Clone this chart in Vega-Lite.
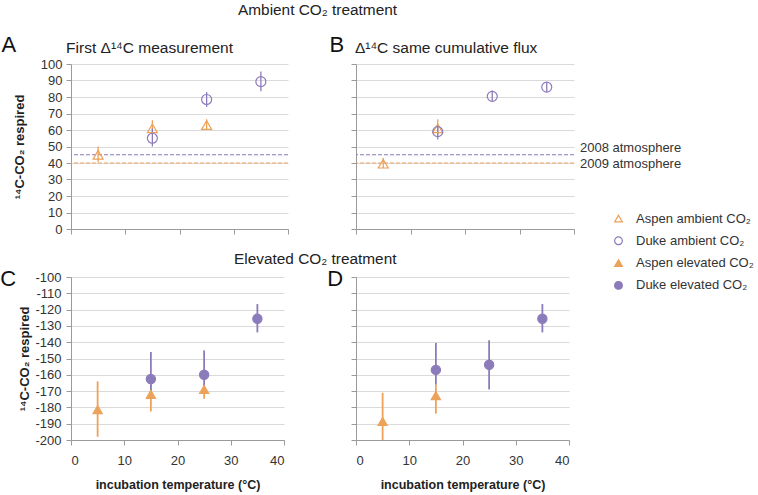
{
  "$schema": "https://vega.github.io/schema/vega-lite/v6.json",
  "padding": {"left": 0, "top": 3, "right": 2, "bottom": 1},
  "config": {
    "font": "Liberation Sans",
    "view": {"stroke": null},
    "axis": {"domainColor": "#9a9a9a", "tickColor": "#9a9a9a", "gridColor": "#dadada", "labelColor": "#333", "labelFontSize": 13, "labelFont": "Liberation Sans", "titleFont": "Liberation Sans", "titleColor": "#222", "tickSize": 5},
    "axisX": {"grid": false},
    "axisY": {"grid": true},
    "legend": {"orient": "none", "legendX": 541, "legendY": 148, "labelFontSize": 13, "labelColor": "#333", "symbolSize": 60, "symbolStrokeWidth": 1.2, "rowPadding": 8.3, "labelOffset": 11}
  },
  "datasets": {
    "pts": [
      {"panel": "A", "site": "Aspen", "series": "Aspen ambient CO₂", "temp": 5, "value": 45, "lo": 40.5, "hi": 50},
      {"panel": "A", "site": "Aspen", "series": "Aspen ambient CO₂", "temp": 15, "value": 61, "lo": 57, "hi": 66},
      {"panel": "A", "site": "Aspen", "series": "Aspen ambient CO₂", "temp": 25, "value": 63, "lo": 60.5, "hi": 66.5},
      {"panel": "A", "site": "Duke", "series": "Duke ambient CO₂", "temp": 15, "value": 55, "lo": 50, "hi": 61},
      {"panel": "A", "site": "Duke", "series": "Duke ambient CO₂", "temp": 25, "value": 78.5, "lo": 74, "hi": 83},
      {"panel": "A", "site": "Duke", "series": "Duke ambient CO₂", "temp": 35, "value": 89.3, "lo": 83.5, "hi": 95.5},
      {"panel": "B", "site": "Aspen", "series": "Aspen ambient CO₂", "temp": 5, "value": 39.6, "lo": 37, "hi": 43},
      {"panel": "B", "site": "Aspen", "series": "Aspen ambient CO₂", "temp": 15, "value": 61, "lo": 57, "hi": 66.5},
      {"panel": "B", "site": "Duke", "series": "Duke ambient CO₂", "temp": 15, "value": 59, "lo": 54.3, "hi": 63},
      {"panel": "B", "site": "Duke", "series": "Duke ambient CO₂", "temp": 25, "value": 80.4, "lo": 77.4, "hi": 84},
      {"panel": "B", "site": "Duke", "series": "Duke ambient CO₂", "temp": 35, "value": 86, "lo": 83, "hi": 89},
      {"panel": "C", "site": "Aspen", "series": "Aspen elevated CO₂", "temp": 5, "value": -181.4, "lo": -198, "hi": -164},
      {"panel": "C", "site": "Aspen", "series": "Aspen elevated CO₂", "temp": 15, "value": -172, "lo": -182.5, "hi": -166},
      {"panel": "C", "site": "Aspen", "series": "Aspen elevated CO₂", "temp": 25, "value": -169, "lo": -174.7, "hi": -166},
      {"panel": "C", "site": "Duke", "series": "Duke elevated CO₂", "temp": 15, "value": -162.6, "lo": -171, "hi": -146},
      {"panel": "C", "site": "Duke", "series": "Duke elevated CO₂", "temp": 25, "value": -160, "lo": -168, "hi": -145},
      {"panel": "C", "site": "Duke", "series": "Duke elevated CO₂", "temp": 35, "value": -125.6, "lo": -134, "hi": -116.6},
      {"panel": "D", "site": "Aspen", "series": "Aspen elevated CO₂", "temp": 5, "value": -188.6, "lo": -200, "hi": -171},
      {"panel": "D", "site": "Aspen", "series": "Aspen elevated CO₂", "temp": 15, "value": -172.8, "lo": -183.8, "hi": -166},
      {"panel": "D", "site": "Duke", "series": "Duke elevated CO₂", "temp": 15, "value": -157, "lo": -166, "hi": -140.5},
      {"panel": "D", "site": "Duke", "series": "Duke elevated CO₂", "temp": 25, "value": -153.8, "lo": -169, "hi": -138.8},
      {"panel": "D", "site": "Duke", "series": "Duke elevated CO₂", "temp": 35, "value": -125.6, "lo": -134, "hi": -116.6}
    ],
    "refs": [
      {"year": 2008, "label": "2008 atmosphere", "value": 45},
      {"year": 2009, "label": "2009 atmosphere", "value": 40}
    ],
    "letters": [
      {"panel": "A", "letter": "A", "subtitle": "First Δ¹⁴C measurement"},
      {"panel": "B", "letter": "B", "subtitle": "Δ¹⁴C same cumulative flux"},
      {"panel": "C", "letter": "C", "subtitle": ""},
      {"panel": "D", "letter": "D", "subtitle": ""}
    ]
  },
  "spacing": 16,
  "vconcat": [
    {
      "title": {"text": "Ambient CO₂ treatment", "anchor": "start", "frame": "group", "dx": 167, "fontSize": 15.4, "fontWeight": "normal", "color": "#222", "offset": 15},
      "spacing": 40,
      "hconcat": [
        {
          "width": 217, "height": 165,
          "layer": [
            {"data": {"name": "refs"}, "transform": [{"filter": "datum.year === 2008"}], "mark": {"type": "rule", "color": "#8C7BBA", "strokeDash": [4, 2], "strokeWidth": 1},
             "encoding": {"y": {"field": "value", "type": "quantitative", "scale": {"domain": [0, 100], "nice": false}, "axis": {"values": [0, 10, 20, 30, 40, 50, 60, 70, 80, 90, 100], "title": "¹⁴C-CO₂ respired", "titleFontSize": 13, "titleFontWeight": "bold", "titlePadding": 14, "labelPadding": 4}}}},
            {"data": {"name": "refs"}, "transform": [{"filter": "datum.year === 2009"}], "mark": {"type": "rule", "color": "#EDA25A", "strokeDash": [4, 2], "strokeWidth": 1},
             "encoding": {"y": {"field": "value", "type": "quantitative", "scale": {"domain": [0, 100], "nice": false}, "axis": {"values": [0, 10, 20, 30, 40, 50, 60, 70, 80, 90, 100], "title": "¹⁴C-CO₂ respired", "titleFontSize": 13, "titleFontWeight": "bold", "titlePadding": 14, "labelPadding": 4}}}},
            {"data": {"name": "pts"}, "transform": [{"filter": "datum.panel === 'A'"}], "mark": {"type": "rule", "strokeWidth": 1.3},
             "encoding": {
               "x": {"field": "temp", "type": "quantitative", "scale": {"domain": [0, 40], "nice": false}, "axis": {"values": [0, 10, 20, 30, 40], "labels": false, "title": null}},
               "y": {"field": "lo", "type": "quantitative", "scale": {"domain": [0, 100], "nice": false}, "axis": {"values": [0, 10, 20, 30, 40, 50, 60, 70, 80, 90, 100], "title": "¹⁴C-CO₂ respired", "titleFontSize": 13, "titleFontWeight": "bold", "titlePadding": 14, "labelPadding": 4}}, "y2": {"field": "hi"},
               "color": {"field": "site", "type": "nominal", "scale": {"domain": ["Aspen", "Duke"], "range": ["#EDA25A", "#8C7BBA"]}, "legend": null}}},
            {"data": {"name": "pts"}, "transform": [{"filter": "datum.panel === 'A'"}], "mark": {"type": "point", "size": 100, "strokeWidth": 1.2, "opacity": 1},
             "encoding": {
               "x": {"field": "temp", "type": "quantitative", "scale": {"domain": [0, 40], "nice": false}, "axis": {"values": [0, 10, 20, 30, 40], "labels": false, "title": null}},
               "y": {"field": "value", "type": "quantitative", "scale": {"domain": [0, 100], "nice": false}, "axis": {"values": [0, 10, 20, 30, 40, 50, 60, 70, 80, 90, 100], "title": "¹⁴C-CO₂ respired", "titleFontSize": 13, "titleFontWeight": "bold", "titlePadding": 14, "labelPadding": 4}},
               "shape": {"field": "series", "type": "nominal", "scale": {"domain": ["Aspen ambient CO₂", "Duke ambient CO₂", "Aspen elevated CO₂", "Duke elevated CO₂"], "range": ["triangle-up", "circle", "triangle-up", "circle"]}, "title": null},
               "stroke": {"field": "series", "type": "nominal", "scale": {"domain": ["Aspen ambient CO₂", "Duke ambient CO₂", "Aspen elevated CO₂", "Duke elevated CO₂"], "range": ["#EDA25A", "#8C7BBA", "#EDA25A", "#8C7BBA"]}, "title": null},
               "fill": {"field": "series", "type": "nominal", "scale": {"domain": ["Aspen ambient CO₂", "Duke ambient CO₂", "Aspen elevated CO₂", "Duke elevated CO₂"], "range": ["transparent", "transparent", "#EDA25A", "#8C7BBA"]}, "title": null}
             }},
            {"data": {"name": "letters"}, "transform": [{"filter": "datum.panel === 'A'"}], "mark": {"type": "text", "fontSize": 22, "baseline": "middle", "align": "center", "color": "#111"},
             "encoding": {"x": {"datum": -11.45, "type": "quantitative", "axis": {"values": [0, 10, 20, 30, 40], "labels": false, "title": null}}, "y": {"datum": 111.8, "type": "quantitative", "axis": {"values": [0, 10, 20, 30, 40, 50, 60, 70, 80, 90, 100], "title": "¹⁴C-CO₂ respired", "titleFontSize": 13, "titleFontWeight": "bold", "titlePadding": 14, "labelPadding": 4}}, "text": {"field": "letter", "type": "nominal"}}},
            {"data": {"name": "letters"}, "transform": [{"filter": "datum.panel === 'A'"}], "mark": {"type": "text", "fontSize": 15.5, "baseline": "middle", "align": "left", "color": "#222"},
             "encoding": {"x": {"datum": -0.9, "type": "quantitative", "axis": {"values": [0, 10, 20, 30, 40], "labels": false, "title": null}}, "y": {"datum": 109.7, "type": "quantitative", "axis": {"values": [0, 10, 20, 30, 40, 50, 60, 70, 80, 90, 100], "title": "¹⁴C-CO₂ respired", "titleFontSize": 13, "titleFontWeight": "bold", "titlePadding": 14, "labelPadding": 4}}, "text": {"field": "subtitle", "type": "nominal"}}}
          ]
        },
        {
          "width": 218, "height": 165,
          "layer": [
            {"data": {"name": "refs"}, "transform": [{"filter": "datum.year === 2008"}], "mark": {"type": "rule", "color": "#8C7BBA", "strokeDash": [4, 2], "strokeWidth": 1},
             "encoding": {"y": {"field": "value", "type": "quantitative", "scale": {"domain": [0, 100], "nice": false}, "axis": {"values": [0, 10, 20, 30, 40, 50, 60, 70, 80, 90, 100], "labels": false, "title": null}}}},
            {"data": {"name": "refs"}, "transform": [{"filter": "datum.year === 2009"}], "mark": {"type": "rule", "color": "#EDA25A", "strokeDash": [4, 2], "strokeWidth": 1},
             "encoding": {"y": {"field": "value", "type": "quantitative", "scale": {"domain": [0, 100], "nice": false}, "axis": {"values": [0, 10, 20, 30, 40, 50, 60, 70, 80, 90, 100], "labels": false, "title": null}}}},
            {"data": {"name": "refs"}, "transform": [{"filter": "datum.year === 2008"}], "mark": {"type": "text", "align": "left", "baseline": "middle", "dx": 6, "dy": -7, "fontSize": 13, "color": "#333"},
             "encoding": {"x": {"datum": 40, "type": "quantitative", "axis": {"values": [0, 10, 20, 30, 40], "labels": false, "title": null}}, "y": {"field": "value", "type": "quantitative", "axis": {"values": [0, 10, 20, 30, 40, 50, 60, 70, 80, 90, 100], "labels": false, "title": null}}, "text": {"field": "label", "type": "nominal"}}},
            {"data": {"name": "refs"}, "transform": [{"filter": "datum.year === 2009"}], "mark": {"type": "text", "align": "left", "baseline": "middle", "dx": 6, "dy": 1, "fontSize": 13, "color": "#333"},
             "encoding": {"x": {"datum": 40, "type": "quantitative", "axis": {"values": [0, 10, 20, 30, 40], "labels": false, "title": null}}, "y": {"field": "value", "type": "quantitative", "axis": {"values": [0, 10, 20, 30, 40, 50, 60, 70, 80, 90, 100], "labels": false, "title": null}}, "text": {"field": "label", "type": "nominal"}}},
            {"data": {"name": "pts"}, "transform": [{"filter": "datum.panel === 'B'"}], "mark": {"type": "rule", "strokeWidth": 1.3},
             "encoding": {
               "x": {"field": "temp", "type": "quantitative", "scale": {"domain": [0, 40], "nice": false}, "axis": {"values": [0, 10, 20, 30, 40], "labels": false, "title": null}},
               "y": {"field": "lo", "type": "quantitative", "scale": {"domain": [0, 100], "nice": false}, "axis": {"values": [0, 10, 20, 30, 40, 50, 60, 70, 80, 90, 100], "labels": false, "title": null}}, "y2": {"field": "hi"},
               "color": {"field": "site", "type": "nominal", "scale": {"domain": ["Aspen", "Duke"], "range": ["#EDA25A", "#8C7BBA"]}, "legend": null}}},
            {"data": {"name": "pts"}, "transform": [{"filter": "datum.panel === 'B'"}], "mark": {"type": "point", "size": 100, "strokeWidth": 1.2, "opacity": 1},
             "encoding": {
               "x": {"field": "temp", "type": "quantitative", "scale": {"domain": [0, 40], "nice": false}, "axis": {"values": [0, 10, 20, 30, 40], "labels": false, "title": null}},
               "y": {"field": "value", "type": "quantitative", "scale": {"domain": [0, 100], "nice": false}, "axis": {"values": [0, 10, 20, 30, 40, 50, 60, 70, 80, 90, 100], "labels": false, "title": null}},
               "shape": {"field": "series", "type": "nominal", "scale": {"domain": ["Aspen ambient CO₂", "Duke ambient CO₂", "Aspen elevated CO₂", "Duke elevated CO₂"], "range": ["triangle-up", "circle", "triangle-up", "circle"]}, "title": null},
               "stroke": {"field": "series", "type": "nominal", "scale": {"domain": ["Aspen ambient CO₂", "Duke ambient CO₂", "Aspen elevated CO₂", "Duke elevated CO₂"], "range": ["#EDA25A", "#8C7BBA", "#EDA25A", "#8C7BBA"]}, "title": null},
               "fill": {"field": "series", "type": "nominal", "scale": {"domain": ["Aspen ambient CO₂", "Duke ambient CO₂", "Aspen elevated CO₂", "Duke elevated CO₂"], "range": ["transparent", "transparent", "#EDA25A", "#8C7BBA"]}, "title": null}
             }},
            {"data": {"name": "letters"}, "transform": [{"filter": "datum.panel === 'B'"}], "mark": {"type": "text", "fontSize": 22, "baseline": "middle", "align": "center", "color": "#111"},
             "encoding": {"x": {"datum": -3.5, "type": "quantitative", "axis": {"values": [0, 10, 20, 30, 40], "labels": false, "title": null}}, "y": {"datum": 111.3, "type": "quantitative", "axis": {"values": [0, 10, 20, 30, 40, 50, 60, 70, 80, 90, 100], "labels": false, "title": null}}, "text": {"field": "letter", "type": "nominal"}}},
            {"data": {"name": "letters"}, "transform": [{"filter": "datum.panel === 'B'"}], "mark": {"type": "text", "fontSize": 15.5, "baseline": "middle", "align": "left", "color": "#222"},
             "encoding": {"x": {"datum": -0.2, "type": "quantitative", "axis": {"values": [0, 10, 20, 30, 40], "labels": false, "title": null}}, "y": {"datum": 109.7, "type": "quantitative", "axis": {"values": [0, 10, 20, 30, 40, 50, 60, 70, 80, 90, 100], "labels": false, "title": null}}, "text": {"field": "subtitle", "type": "nominal"}}}
          ]
        }
      ]
    },
    {
      "title": {"text": "Elevated CO₂ treatment", "anchor": "start", "frame": "group", "dx": 163, "fontSize": 15.4, "fontWeight": "normal", "color": "#222", "offset": 0},
      "spacing": 42,
      "hconcat": [
        {
          "width": 213, "height": 163,
          "layer": [
            {"data": {"name": "pts"}, "transform": [{"filter": "datum.panel === 'C'"}], "mark": {"type": "rule", "strokeWidth": 1.8},
             "encoding": {
               "x": {"field": "temp", "type": "quantitative", "scale": {"domain": [0, 40], "nice": false}, "axis": {"values": [0, 10, 20, 30, 40], "title": "incubation temperature (°C)", "titleFontSize": 12.5, "titleFontWeight": "bold", "titlePadding": 11, "labelPadding": 9}},
               "y": {"field": "lo", "type": "quantitative", "scale": {"domain": [-200, -100], "nice": false}, "axis": {"values": [-200, -190, -180, -170, -160, -150, -140, -130, -120, -110, -100], "labelExpr": "toString(datum.value)", "title": "¹⁴C-CO₂ respired", "titleFontSize": 13, "titleFontWeight": "bold", "titlePadding": 3, "labelPadding": 5}}, "y2": {"field": "hi"},
               "color": {"field": "site", "type": "nominal", "scale": {"domain": ["Aspen", "Duke"], "range": ["#EDA25A", "#8C7BBA"]}, "legend": null}}},
            {"data": {"name": "pts"}, "transform": [{"filter": "datum.panel === 'C'"}], "mark": {"type": "point", "size": 85, "strokeWidth": 1.2, "opacity": 1},
             "encoding": {
               "x": {"field": "temp", "type": "quantitative", "scale": {"domain": [0, 40], "nice": false}, "axis": {"values": [0, 10, 20, 30, 40], "title": "incubation temperature (°C)", "titleFontSize": 12.5, "titleFontWeight": "bold", "titlePadding": 11, "labelPadding": 9}},
               "y": {"field": "value", "type": "quantitative", "scale": {"domain": [-200, -100], "nice": false}, "axis": {"values": [-200, -190, -180, -170, -160, -150, -140, -130, -120, -110, -100], "labelExpr": "toString(datum.value)", "title": "¹⁴C-CO₂ respired", "titleFontSize": 13, "titleFontWeight": "bold", "titlePadding": 3, "labelPadding": 5}},
               "shape": {"field": "series", "type": "nominal", "scale": {"domain": ["Aspen ambient CO₂", "Duke ambient CO₂", "Aspen elevated CO₂", "Duke elevated CO₂"], "range": ["triangle-up", "circle", "triangle-up", "circle"]}, "title": null},
               "stroke": {"field": "series", "type": "nominal", "scale": {"domain": ["Aspen ambient CO₂", "Duke ambient CO₂", "Aspen elevated CO₂", "Duke elevated CO₂"], "range": ["#EDA25A", "#8C7BBA", "#EDA25A", "#8C7BBA"]}, "title": null},
               "fill": {"field": "series", "type": "nominal", "scale": {"domain": ["Aspen ambient CO₂", "Duke ambient CO₂", "Aspen elevated CO₂", "Duke elevated CO₂"], "range": ["transparent", "transparent", "#EDA25A", "#8C7BBA"]}, "title": null}
             }},
            {"data": {"name": "letters"}, "transform": [{"filter": "datum.panel === 'C'"}], "mark": {"type": "text", "fontSize": 22, "baseline": "middle", "align": "center", "color": "#111"},
             "encoding": {"x": {"datum": -11.8, "type": "quantitative", "axis": {"values": [0, 10, 20, 30, 40], "title": "incubation temperature (°C)", "titleFontSize": 12.5, "titleFontWeight": "bold", "titlePadding": 11, "labelPadding": 9}}, "y": {"datum": -101.2, "type": "quantitative", "axis": {"values": [-200, -190, -180, -170, -160, -150, -140, -130, -120, -110, -100], "labelExpr": "toString(datum.value)", "title": "¹⁴C-CO₂ respired", "titleFontSize": 13, "titleFontWeight": "bold", "titlePadding": 3, "labelPadding": 5}}, "text": {"field": "letter", "type": "nominal"}}}
          ]
        },
        {
          "width": 213, "height": 163,
          "layer": [
            {"data": {"name": "pts"}, "transform": [{"filter": "datum.panel === 'D'"}], "mark": {"type": "rule", "strokeWidth": 1.8},
             "encoding": {
               "x": {"field": "temp", "type": "quantitative", "scale": {"domain": [0, 40], "nice": false}, "axis": {"values": [0, 10, 20, 30, 40], "title": "incubation temperature (°C)", "titleFontSize": 12.5, "titleFontWeight": "bold", "titlePadding": 11, "labelPadding": 9}},
               "y": {"field": "lo", "type": "quantitative", "scale": {"domain": [-200, -100], "nice": false}, "axis": {"values": [-200, -190, -180, -170, -160, -150, -140, -130, -120, -110, -100], "labels": false, "title": null}}, "y2": {"field": "hi"},
               "color": {"field": "site", "type": "nominal", "scale": {"domain": ["Aspen", "Duke"], "range": ["#EDA25A", "#8C7BBA"]}, "legend": null}}},
            {"data": {"name": "pts"}, "transform": [{"filter": "datum.panel === 'D'"}], "mark": {"type": "point", "size": 85, "strokeWidth": 1.2, "opacity": 1},
             "encoding": {
               "x": {"field": "temp", "type": "quantitative", "scale": {"domain": [0, 40], "nice": false}, "axis": {"values": [0, 10, 20, 30, 40], "title": "incubation temperature (°C)", "titleFontSize": 12.5, "titleFontWeight": "bold", "titlePadding": 11, "labelPadding": 9}},
               "y": {"field": "value", "type": "quantitative", "scale": {"domain": [-200, -100], "nice": false}, "axis": {"values": [-200, -190, -180, -170, -160, -150, -140, -130, -120, -110, -100], "labels": false, "title": null}},
               "shape": {"field": "series", "type": "nominal", "scale": {"domain": ["Aspen ambient CO₂", "Duke ambient CO₂", "Aspen elevated CO₂", "Duke elevated CO₂"], "range": ["triangle-up", "circle", "triangle-up", "circle"]}, "title": null},
               "stroke": {"field": "series", "type": "nominal", "scale": {"domain": ["Aspen ambient CO₂", "Duke ambient CO₂", "Aspen elevated CO₂", "Duke elevated CO₂"], "range": ["#EDA25A", "#8C7BBA", "#EDA25A", "#8C7BBA"]}, "title": null},
               "fill": {"field": "series", "type": "nominal", "scale": {"domain": ["Aspen ambient CO₂", "Duke ambient CO₂", "Aspen elevated CO₂", "Duke elevated CO₂"], "range": ["transparent", "transparent", "#EDA25A", "#8C7BBA"]}, "title": null}
             }},
            {"data": {"name": "letters"}, "transform": [{"filter": "datum.panel === 'D'"}], "mark": {"type": "text", "fontSize": 22, "baseline": "middle", "align": "center", "color": "#111"},
             "encoding": {"x": {"datum": -3.9, "type": "quantitative", "axis": {"values": [0, 10, 20, 30, 40], "title": "incubation temperature (°C)", "titleFontSize": 12.5, "titleFontWeight": "bold", "titlePadding": 11, "labelPadding": 9}}, "y": {"datum": -101, "type": "quantitative", "axis": {"values": [-200, -190, -180, -170, -160, -150, -140, -130, -120, -110, -100], "labels": false, "title": null}}, "text": {"field": "letter", "type": "nominal"}}}
          ]
        }
      ]
    }
  ]
}
